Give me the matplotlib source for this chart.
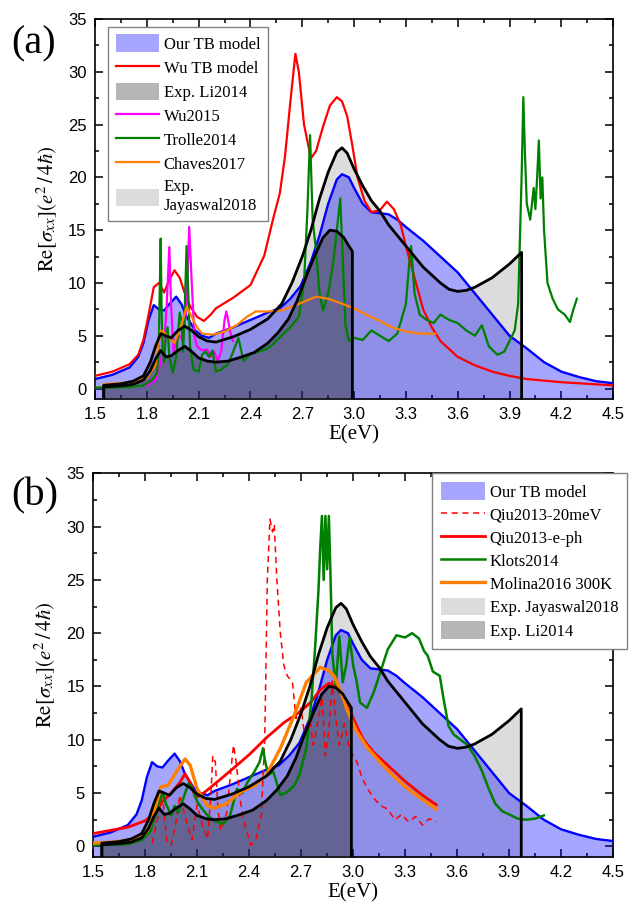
import numpy as np
import matplotlib
matplotlib.use("Agg")
import matplotlib.pyplot as plt
from matplotlib.patches import Patch
from matplotlib.lines import Line2D
from matplotlib.ticker import MultipleLocator

plt.rcParams['mathtext.fontset'] = 'stix'

# ---- Our TB model (both panels)
tb_x = [1.5, 1.6, 1.7, 1.75, 1.78, 1.81, 1.84, 1.87, 1.9, 1.93, 1.97, 2.0, 2.03, 2.08, 2.12, 2.16,
        2.2, 2.3, 2.4, 2.5, 2.57, 2.63, 2.69, 2.75, 2.8, 2.85, 2.9, 2.93, 2.97, 3.0, 3.05, 3.1,
        3.2, 3.25, 3.3, 3.4, 3.5, 3.6, 3.7, 3.8, 3.9, 4.0, 4.1, 4.2, 4.3, 4.4, 4.5]
tb_y = [0.9, 1.3, 2.0, 3.0, 4.3, 6.5, 7.9, 7.5, 7.4, 8.0, 8.7, 8.0, 6.8, 5.5, 5.0, 4.8,
        5.2, 5.8, 6.5, 7.2, 7.6, 8.5, 9.7, 12.0, 14.5, 17.5, 19.8, 20.3, 20.0, 19.0, 17.5, 16.7,
        16.5, 16.0, 15.3, 14.0, 12.5, 11.0, 9.0, 7.0, 5.0, 3.8, 2.5, 1.6, 1.1, 0.7, 0.5]

# ---- Exp. Jayaswal2018
jay_x = [1.55, 1.65, 1.72, 1.78, 1.82, 1.85, 1.88, 1.91, 1.94, 1.98, 2.02, 2.06, 2.1, 2.15, 2.2,
         2.3, 2.4, 2.5, 2.58, 2.64, 2.7, 2.75, 2.8, 2.85, 2.9, 2.93, 2.96, 3.0, 3.05, 3.1, 3.15,
         3.2, 3.3, 3.4, 3.5, 3.55, 3.6, 3.65, 3.7, 3.8, 3.9, 3.97]
jay_y = [0.3, 0.45, 0.7, 1.2, 2.5, 4.0, 5.2, 5.0, 4.8, 5.5, 5.9, 5.5, 4.9, 4.5, 4.4,
         4.9, 5.6, 6.6, 8.0, 10.0, 12.5, 15.0, 18.0, 20.5, 22.4, 22.8, 22.3, 20.8, 19.2, 17.8, 16.8,
         15.5, 13.5, 11.5, 10.0, 9.4, 9.2, 9.3, 9.6, 10.5, 11.8, 12.9]

# ---- Exp. Li2014
li_x = [1.55, 1.65, 1.72, 1.78, 1.82, 1.85, 1.88, 1.91, 1.94, 1.98, 2.02, 2.06, 2.1, 2.15, 2.2,
        2.27, 2.35, 2.42, 2.5, 2.56, 2.62, 2.67, 2.72, 2.77, 2.82, 2.86, 2.9, 2.94, 2.97, 2.99]
li_y = [0.15, 0.25, 0.4, 0.8, 1.7, 2.8, 3.6, 3.0, 3.1, 3.6, 4.0, 3.5, 2.9, 2.6, 2.5,
        2.6, 3.0, 3.4, 4.3, 5.3, 6.6, 8.3, 10.5, 12.5, 14.3, 15.0, 14.9, 14.3, 13.5, 13.0]

# ---- panel (a) references
wu_tb_x = [1.5, 1.6, 1.7, 1.75, 1.78, 1.81, 1.84, 1.87, 1.9, 1.93, 1.96, 1.99, 2.02, 2.05, 2.09,
           2.13, 2.17, 2.2, 2.3, 2.4, 2.48, 2.53, 2.57, 2.6, 2.63, 2.66, 2.68, 2.71, 2.75, 2.78,
           2.82, 2.86, 2.9, 2.93, 2.96, 2.99, 3.02, 3.06, 3.1, 3.15, 3.19, 3.23, 3.27, 3.3, 3.35,
           3.4, 3.45, 3.5, 3.6, 3.7, 3.8, 3.9, 4.0, 4.2, 4.5]
wu_tb_y = [1.2, 1.6, 2.3, 3.2, 4.6, 7.0, 9.6, 10.0, 9.1, 10.3, 11.2, 10.5, 9.0, 7.8, 6.8,
           6.4, 7.0, 7.6, 8.6, 9.8, 12.6, 16.0, 18.5, 22.0, 27.0, 31.7, 30.0, 25.0, 21.8, 22.5,
           24.8, 26.8, 27.6, 27.2, 25.8, 23.0, 20.0, 17.8, 16.7, 16.9, 17.7, 17.0, 15.5, 13.5, 10.5,
           7.5, 5.8, 4.5, 3.0, 2.2, 1.6, 1.2, 0.9, 0.6, 0.3]

wu15_x = [1.8, 1.85, 1.88, 1.9, 1.915, 1.93, 1.94, 1.955, 1.97, 1.99, 2.01, 2.03, 2.045, 2.06,
          2.075, 2.09, 2.12, 2.15, 2.17, 2.19, 2.21, 2.23, 2.25, 2.26, 2.27, 2.29, 2.3]
wu15_y = [0.3, 0.8, 2.5, 4.0, 8.0, 13.4, 8.0, 3.5, 4.5, 5.0, 4.5, 8.0, 15.3, 10.0,
          5.0, 4.0, 3.6, 3.7, 3.0, 3.5, 2.6, 3.5, 6.5, 7.3, 6.5, 4.8, 4.5]

trolle_x = [1.5, 1.6, 1.7, 1.78, 1.83, 1.86, 1.87, 1.88, 1.885, 1.89, 1.9, 1.91, 1.92, 1.93, 1.95,
            1.97, 1.99, 2.0, 2.01, 2.02, 2.03, 2.04, 2.05, 2.07, 2.1, 2.12, 2.14, 2.16, 2.18, 2.2,
            2.23, 2.27, 2.3, 2.33, 2.36, 2.4, 2.45, 2.5, 2.53, 2.58, 2.63, 2.68, 2.71, 2.73, 2.745,
            2.76, 2.78, 2.8, 2.82, 2.85, 2.88, 2.9, 2.92, 2.93, 2.95, 2.97, 3.0, 3.05, 3.1, 3.15,
            3.2, 3.25, 3.3, 3.32, 3.33, 3.35, 3.38, 3.42, 3.46, 3.5, 3.55, 3.6, 3.65, 3.7, 3.74,
            3.78, 3.83, 3.87, 3.9, 3.93, 3.95, 3.97, 3.98, 3.99, 4.0, 4.02, 4.04, 4.05, 4.06, 4.07,
            4.08, 4.09, 4.1, 4.12, 4.15, 4.18, 4.22, 4.25, 4.27, 4.29]
trolle_y = [0.1, 0.1, 0.15, 0.3, 0.8, 1.5, 5.0, 14.2, 8.0, 4.0, 2.5, 5.0, 5.8, 3.0, 1.5,
            3.0, 7.2, 6.5, 3.5, 8.0, 13.5, 9.0, 4.0, 1.8, 1.6, 3.2, 3.5, 3.0, 3.6, 1.6,
            1.8, 2.3, 3.5, 4.8, 2.6, 3.3, 3.5, 3.8, 4.2, 5.0, 5.8, 6.8, 10.0, 17.0, 24.0,
            16.0, 13.0, 9.0, 7.4, 9.0, 12.0, 15.0, 18.0, 14.0, 6.0, 4.5, 4.8, 4.6, 5.5, 5.0,
            4.5, 5.2, 8.0, 12.0, 13.5, 9.0, 7.0, 6.5, 6.2, 7.0, 6.5, 6.2, 5.5, 5.0, 6.0,
            4.0, 3.2, 3.5, 4.5, 5.5, 8.0, 20.0, 27.6, 22.0, 17.5, 16.0, 19.0, 17.0, 20.0, 23.5,
            18.0, 20.0, 15.0, 10.0, 8.5, 7.5, 7.0, 6.3, 7.5, 8.5]

chaves_x = [1.55, 1.7, 1.8, 1.85, 1.88, 1.9, 1.93, 1.96, 2.0, 2.03, 2.06, 2.09, 2.12, 2.18, 2.25,
            2.32, 2.38, 2.43, 2.5, 2.58, 2.65, 2.72, 2.78, 2.85, 2.92, 3.0, 3.07, 3.15, 3.22, 3.3,
            3.38, 3.47]
chaves_y = [0.4, 0.6, 1.0, 2.2, 5.5, 5.3, 4.8, 4.3, 6.0, 7.7, 6.8, 5.8, 5.2, 5.1, 5.4,
            6.0, 6.8, 7.3, 7.3, 7.4, 7.8, 8.3, 8.7, 8.5, 8.1, 7.6, 7.0, 6.4, 5.8, 5.4,
            5.2, 5.2]

# ---- panel (b) references
qiu20_x = [1.84, 1.87, 1.9, 1.91, 1.925, 1.95, 1.98, 2.0, 2.02, 2.05, 2.07, 2.1, 2.13, 2.16, 2.18,
           2.19, 2.205, 2.22, 2.235, 2.27, 2.3, 2.31, 2.325, 2.35, 2.37, 2.41, 2.44, 2.47, 2.49,
           2.505, 2.52, 2.535, 2.545, 2.56, 2.58, 2.6, 2.62, 2.65, 2.67, 2.7, 2.72, 2.75, 2.77,
           2.8, 2.82, 2.84, 2.86, 2.88, 2.9, 2.92, 2.95, 2.98, 3.02, 3.05, 3.08, 3.12, 3.16, 3.2,
           3.24, 3.28, 3.32, 3.36, 3.4, 3.44, 3.48]
qiu20_y = [0.3, 2.5, 5.1, 3.0, 0.5, 0.1, 2.5, 4.8, 3.5, 1.7, 0.6, 3.9, 2.0, 0.7, 5.0,
           8.5, 7.9, 3.5, 1.5, 3.1, 8.0, 9.5, 7.9, 4.2, 2.3, 0.1, 0.7, 2.9, 10.0,
           25.0, 30.7, 29.5, 30.2, 25.0, 20.0, 17.0, 16.0, 15.4, 12.0, 13.0, 10.4, 12.0, 9.5,
           12.0, 14.0, 8.5, 11.0, 15.5, 12.0, 9.5, 11.5, 9.0, 8.0, 6.5, 5.5, 4.5, 3.8, 3.5,
           2.5, 3.0, 2.3, 2.8, 2.0, 2.6, 2.3]

qiu_eph_x = [1.5, 1.6, 1.7, 1.8, 1.86, 1.9, 1.95, 2.0, 2.03, 2.06, 2.09, 2.12, 2.16, 2.22, 2.3,
             2.4, 2.5, 2.6, 2.7, 2.76, 2.81, 2.86, 2.9, 2.94, 2.98, 3.02, 3.06, 3.12, 3.2, 3.3,
             3.4, 3.48]
qiu_eph_y = [1.2, 1.5, 1.8, 2.4, 3.2, 4.2, 5.0, 6.0, 6.8, 6.0, 4.6, 4.8, 5.3, 6.1, 7.2,
             8.6, 10.2, 11.6, 12.7, 13.6, 14.7, 15.3, 15.0, 14.2, 12.8, 11.3, 10.0, 8.8, 7.6, 6.1,
             4.8, 3.9]

klots_x = [1.5, 1.7, 1.78, 1.83, 1.87, 1.9, 1.92, 1.95, 1.97, 1.99, 2.02, 2.05, 2.07, 2.1, 2.13,
           2.16, 2.2, 2.25, 2.29, 2.33, 2.36, 2.39, 2.43, 2.46, 2.48, 2.49, 2.51, 2.54, 2.58, 2.62,
           2.66, 2.69, 2.73, 2.76, 2.78, 2.8, 2.81, 2.82, 2.83, 2.84, 2.85, 2.86, 2.87, 2.88, 2.9,
           2.92, 2.94, 2.96, 2.98, 3.0, 3.02, 3.04, 3.08, 3.12, 3.16, 3.2, 3.25, 3.3, 3.34, 3.38,
           3.41, 3.43, 3.46, 3.5, 3.52, 3.55, 3.58, 3.62, 3.66, 3.7, 3.74, 3.78, 3.82, 3.86, 3.9,
           3.95, 4.0, 4.05, 4.1]
klots_y = [0.1, 0.2, 0.6, 1.4, 3.5, 5.1, 4.0, 2.9, 3.8, 3.2, 4.5, 5.9, 5.5, 4.2, 3.5,
           2.9, 2.4, 2.1, 2.9, 5.4, 5.0, 6.0, 7.0, 7.9, 9.2, 8.2, 6.7, 7.0, 4.8, 5.1,
           5.7, 6.7, 9.2, 13.8, 18.5, 24.0, 28.0, 31.0, 25.0, 31.0, 26.0, 31.0, 25.0, 18.0, 15.0,
           19.7, 15.4, 17.0, 19.6, 17.0, 15.5, 13.5, 13.0, 14.5, 16.5, 18.5, 19.8, 19.6, 20.0, 19.5,
           18.3, 17.9, 16.4, 16.0, 14.0, 11.3, 10.5, 10.0, 9.5, 8.5, 7.2, 5.5, 4.0, 3.3, 3.0,
           2.6, 2.5, 2.6, 2.9]

molina_x = [1.5, 1.6, 1.73, 1.8, 1.83, 1.86, 1.89, 1.93, 1.98, 2.03, 2.06, 2.1, 2.16, 2.2, 2.27,
            2.35, 2.43, 2.5, 2.58, 2.66, 2.73, 2.81, 2.86, 2.89, 2.93, 2.97, 3.02, 3.08, 3.15, 3.22,
            3.3, 3.4, 3.48]
molina_y = [0.3, 0.4, 0.6, 1.2, 2.0, 3.8, 5.6, 5.7, 7.0, 8.2, 7.6, 5.4, 3.8, 3.6, 4.0,
            5.1, 5.7, 6.7, 9.2, 12.3, 15.4, 16.8, 16.5, 16.0, 14.5, 12.6, 10.8, 9.3, 8.0, 6.8,
            5.6, 4.4, 3.5]

xticks = [1.5, 1.8, 2.1, 2.4, 2.7, 3.0, 3.3, 3.6, 3.9, 4.2, 4.5]
yticks = [0, 5, 10, 15, 20, 25, 30, 35]

BLUE = '#0000ff'
LIGHT = '#dcdcdc'
DARK = '#2e2e2e'
BOTTOM = -5
serif = 'Liberation Serif'
sans = 'Liberation Sans'


def draw_experiments(ax):
    ax.fill_between(jay_x, jay_y, BOTTOM, color=LIGHT, lw=0, zorder=1)
    ax.fill_between(tb_x, tb_y, BOTTOM, color=BLUE, alpha=0.35, lw=0, zorder=2)
    ax.fill_between(li_x, li_y, BOTTOM, color=DARK, alpha=0.45, lw=0, zorder=3)
    ax.plot(tb_x, tb_y, color=BLUE, lw=1.7, zorder=4)
    ax.plot([jay_x[0]] + jay_x + [jay_x[-1]], [BOTTOM] + jay_y + [BOTTOM], color='black', lw=2, zorder=6)
    ax.plot([li_x[0]] + li_x + [li_x[-1]], [BOTTOM] + li_y + [BOTTOM], color='black', lw=2, zorder=6)


def style_axes(ax):
    ax.set_xlim(1.5, 4.5)
    ax.set_ylim(-1, 35)
    ax.set_xticks(xticks)
    ax.set_xticklabels([f'{t:.1f}' for t in xticks], fontfamily=sans, fontsize=12)
    ax.set_yticks(yticks)
    ax.set_yticklabels([str(t) for t in yticks], fontfamily=sans, fontsize=12)
    ax.xaxis.set_minor_locator(MultipleLocator(0.15))
    ax.yaxis.set_minor_locator(MultipleLocator(2.5))
    ax.tick_params(which='both', direction='in', top=True, right=True, width=1.1)
    ax.tick_params(which='major', length=6, pad=6)
    ax.tick_params(which='minor', length=3)
    for s in ax.spines.values():
        s.set_linewidth(1.2)
    ax.set_xlabel('E(eV)', fontfamily=serif, fontsize=15, labelpad=2)
    ax.set_ylabel(r'$\mathrm{Re}\left[\sigma_{xx}\right]\left(e^2\,/\,4\hbar\right)$', fontsize=15, labelpad=6)


fig = plt.figure(figsize=(6.38, 9.05), dpi=100)
ax1 = fig.add_axes([0.149, 0.559, 0.812, 0.42])
ax2 = fig.add_axes([0.146, 0.053, 0.815, 0.424])

# panel (a)
draw_experiments(ax1)
ax1.plot(wu_tb_x, wu_tb_y, color='#ff0000', lw=1.6, zorder=5)
ax1.plot(wu15_x, wu15_y, color='#ff00ff', lw=1.6, zorder=5)
ax1.plot(trolle_x, trolle_y, color='#008000', lw=1.6, zorder=5)
ax1.plot(chaves_x, chaves_y, color='#ff8000', lw=1.6, zorder=5)
style_axes(ax1)

h1 = [Patch(facecolor=BLUE, alpha=0.35, label='Our TB model'),
      Line2D([], [], color='#ff0000', lw=1.6, label='Wu TB model'),
      Patch(facecolor=DARK, alpha=0.35, label='Exp. Li2014'),
      Line2D([], [], color='#ff00ff', lw=1.6, label='Wu2015'),
      Line2D([], [], color='#008000', lw=1.6, label='Trolle2014'),
      Line2D([], [], color='#ff8000', lw=1.6, label='Chaves2017'),
      Patch(facecolor=LIGHT, label='Exp.\nJayaswal2018')]
ax1.legend(handles=h1, loc='upper left', bbox_to_anchor=(0.025, 0.979), borderaxespad=0,
           prop={'family': serif, 'size': 12}, fancybox=False, edgecolor='#808080',
           framealpha=1, handlelength=2.6, handleheight=1.2, handletextpad=0.3,
           labelspacing=0.36, borderpad=0.45)

# panel (b)
draw_experiments(ax2)
ax2.plot(qiu20_x, qiu20_y, color='#ff0000', lw=1.1, ls=(0, (4, 3)), zorder=5)
ax2.plot(qiu_eph_x, qiu_eph_y, color='#ff0000', lw=2, zorder=5)
ax2.plot(klots_x, klots_y, color='#008000', lw=1.8, zorder=5)
ax2.plot(molina_x, molina_y, color='#ff8000', lw=2.4, zorder=5)
style_axes(ax2)

h2 = [Patch(facecolor=BLUE, alpha=0.35, label='Our TB model'),
      Line2D([], [], color='#ff0000', lw=1.1, ls=(0, (4, 3)), label='Qiu2013-20meV'),
      Line2D([], [], color='#ff0000', lw=2, label='Qiu2013-e-ph'),
      Line2D([], [], color='#008000', lw=1.8, label='Klots2014'),
      Line2D([], [], color='#ff8000', lw=2.4, label='Molina2016 300K'),
      Patch(facecolor=LIGHT, label='Exp. Jayaswal2018'),
      Patch(facecolor=DARK, alpha=0.35, label='Exp. Li2014')]
ax2.legend(handles=h2, loc='upper left', bbox_to_anchor=(0.652, 1.0), borderaxespad=0,
           prop={'family': serif, 'size': 12}, fancybox=False, edgecolor='#808080',
           framealpha=1, handlelength=2.6, handleheight=1.2, handletextpad=0.3,
           labelspacing=0.3, borderpad=0.55)

fig.text(0.018, 0.972, '(a)', fontfamily=serif, fontsize=29, va='top')
fig.text(0.018, 0.473, '(b)', fontfamily=serif, fontsize=29, va='top')

fig.savefig('out.png', dpi=100)
